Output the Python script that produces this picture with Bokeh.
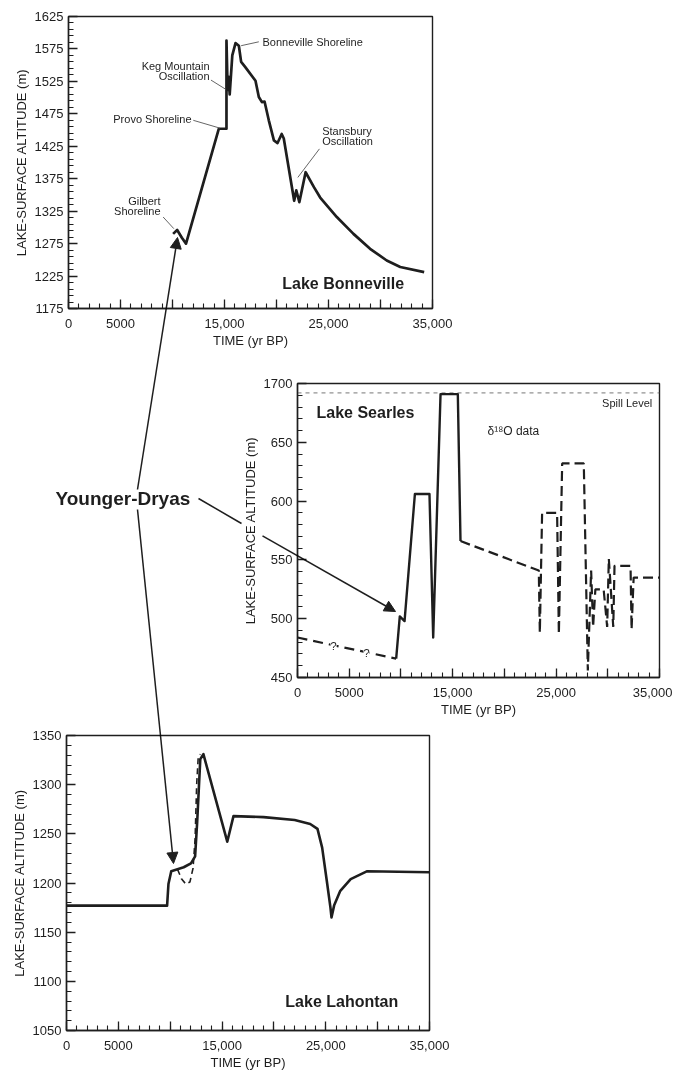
from bokeh.plotting import figure
from bokeh.models import FixedTicker, Label, Arrow, NormalHead
from bokeh.embed import file_html
from bokeh.resources import INLINE

FONT = "Liberation Sans"
INK = "#1e1e1e"

# ---------------- data ----------------
# time axis (yr BP)
x_major = [0, 5000, 10000, 15000, 20000, 25000, 30000, 35000]
x_labels = {0: "0", 5000: "5000", 10000: "", 15000: "15,000", 20000: "",
            25000: "25,000", 30000: "", 35000: "35,000"}

# Lake Bonneville
bon_t = [10060, 10450, 10900, 11300, 14450, 15190, 15190, 15300, 15400, 15500,
         15750, 16060, 16380, 16600, 17000, 17980, 18300, 18600, 18850, 19260,
         19750, 20100, 20500, 20700, 21700, 21900, 22200, 22800, 23600, 24200,
         25800, 27400, 29000, 30600, 31900, 34200]
bon_z = [1290, 1296, 1284, 1275, 1452, 1452, 1588, 1512, 1532, 1505,
         1565, 1584, 1580, 1555, 1547, 1526, 1501, 1493, 1494, 1465,
         1434, 1430, 1444, 1437, 1341, 1357, 1339, 1385, 1362, 1346,
         1316, 1290, 1267, 1249, 1239, 1231]
bon_ticks = [1175, 1225, 1275, 1325, 1375, 1425, 1475, 1525, 1575, 1625]

# Lake Searles
sea_q_t = [0, 9540]
sea_q_z = [484, 466]
sea_solid_t = [9540, 9890, 10350, 11350, 12760, 13120, 13830, 15500, 15760]
sea_solid_z = [466, 502, 498, 606, 606, 484, 691, 691, 566]
sea_d18_t = [15760, 23330, 23430, 23650, 25100, 25270, 25590, 27680, 28070,
             28390, 28580, 28800, 29600, 29940, 30100, 30530, 30650, 32200,
             32300, 32500, 35000]
sea_d18_z = [566, 541, 488, 590, 590, 487, 632, 632, 456,
             541, 493, 525, 525, 493, 551, 493, 545, 545,
             491, 535, 535]
sea_spill = 692
sea_ticks = [450, 500, 550, 600, 650, 700]
sea_labels = {450: "450", 500: "500", 550: "550", 600: "600", 650: "650", 700: "1700"}

# Lake Lahontan
lah_t = [0, 9700, 9830, 10100, 10700, 11300, 12000, 12400, 12600, 12900,
         13200, 15500, 16100, 19000, 22000, 23500, 24200, 24650, 25100, 25450,
         25550, 25800, 26400, 27400, 29000, 35000]
lah_z = [1177, 1177, 1199, 1212, 1214, 1216, 1220, 1227, 1262, 1326,
         1331, 1242, 1268, 1267, 1264, 1260, 1255, 1236, 1202, 1175,
         1165, 1177, 1192, 1204, 1212, 1211]
lah_alt_t = [10700, 11100, 11500, 11900, 12200, 12400, 12550, 12700, 12900]
lah_alt_z = [1214, 1204, 1199, 1201, 1215, 1245, 1300, 1328, 1331]
lah_ticks = [1050, 1100, 1150, 1200, 1250, 1300, 1350]

# ---------------- layout geometry (page px) ----------------
W = 664
TOP_H, MID_H, BOT_H = 352, 362, 352


def place(top_px, extra=None):
    s = {"position": "absolute", "top": f"{top_px}px", "left": "8px"}
    if extra:
        s.update(extra)
    return s


def make_fig(h, yr, borders, top_px):
    l, r, t, b = borders
    p = figure(width=W, height=h, x_range=(0, 35000), y_range=yr,
               output_backend="svg", toolbar_location=None,
               min_border_left=l, min_border_right=r,
               min_border_top=t, min_border_bottom=b,
               styles=place(top_px))
    p.background_fill_color = "white"
    p.border_fill_color = "white"
    p.outline_line_color = INK
    p.outline_line_width = 1.4
    p.xgrid.visible = False
    p.ygrid.visible = False
    return p


def style_axes(p, yticks, ylabels=None):
    p.xaxis.ticker = FixedTicker(ticks=x_major, minor_ticks=list(range(0, 35001, 1000)))
    p.xaxis.major_label_overrides = x_labels
    p.yaxis.ticker = FixedTicker(ticks=yticks,
                                 minor_ticks=list(range(yticks[0], yticks[-1] + 1, 10)))
    if ylabels:
        p.yaxis.major_label_overrides = ylabels
    for ax in (p.xaxis[0], p.yaxis[0]):
        ax.major_tick_in = 9
        ax.major_tick_out = 0
        ax.minor_tick_in = 5
        ax.minor_tick_out = 0
        ax.axis_line_width = 1.4
        ax.axis_line_color = INK
        ax.major_tick_line_width = 1.3
        ax.minor_tick_line_width = 1.1
        ax.major_tick_line_color = INK
        ax.minor_tick_line_color = INK
        ax.major_label_text_font = FONT
        ax.major_label_text_font_size = "13px"
        ax.major_label_text_color = INK
        ax.axis_label_text_font = FONT
        ax.axis_label_text_font_size = "13px"
        ax.axis_label_text_font_style = "normal"
        ax.axis_label_text_color = INK
    p.xaxis.major_label_standoff = 10
    p.xaxis.axis_label_standoff = 2
    p.yaxis.major_label_standoff = 5
    p.yaxis.axis_label_standoff = 3
    p.xaxis.axis_label = "TIME (yr BP)"
    p.yaxis.axis_label = "LAKE-SURFACE ALTITUDE (m)"


def txt(p, x, y, s, size="11px", bold=False, align="left", **kw):
    p.add_layout(Label(x=x, y=y, text=s, text_font=FONT, text_font_size=size,
                       text_font_style="bold" if bold else "normal",
                       text_align=align, text_baseline="middle", text_color=INK, **kw))


def seg(p, x0, y0, x1, y1, width=0.9, color="#555555", head=False):
    end = NormalHead(size=11, fill_color=INK, line_color=INK, line_width=1) if head else None
    p.add_layout(Arrow(end=end, x_start=x0, y_start=y0, x_end=x1, y_end=y1,
                       line_width=width, line_color=color))


# ---------------- top: Lake Bonneville ----------------
top = make_fig(TOP_H, (1175, 1625), (60, W + 8 - 432, 8, 52), 8)
style_axes(top, bon_ticks)
top.line(bon_t, bon_z, line_width=2.7, line_color=INK, line_join="round")

txt(top, 18650, 1585, "Bonneville Shoreline")
seg(top, 16600, 1580, 18300, 1586)
txt(top, 13560, 1549, "Keg Mountain", align="right")
txt(top, 13560, 1533, "Oscillation", align="right")
seg(top, 13700, 1527, 15100, 1513)
txt(top, 11830, 1467, "Provo Shoreline", align="right")
seg(top, 12000, 1465, 14550, 1453)
txt(top, 24390, 1448, "Stansbury")
txt(top, 24390, 1433, "Oscillation")
seg(top, 24130, 1421, 22050, 1377)
txt(top, 8850, 1341, "Gilbert", align="right")
txt(top, 8850, 1325, "Shoreline", align="right")
seg(top, 9100, 1316, 10130, 1298)
txt(top, 20550, 1213, "Lake Bonneville", size="16px", bold=True)

# ---------------- middle: Lake Searles ----------------
mid = make_fig(MID_H, (450, 700), (297 - 8, W + 8 - 659, 383 - 360, 722 - 677), 8 + TOP_H)
style_axes(mid, sea_ticks, sea_labels)
mid.line([0, 35000], [sea_spill, sea_spill], line_width=1, line_color="#777777",
         line_dash="4 4")
mid.line(sea_q_t, sea_q_z, line_width=2.2, line_color=INK, line_dash="10 6")
mid.line(sea_solid_t, sea_solid_z, line_width=2.4, line_color=INK, line_join="round")
mid.line(sea_d18_t, sea_d18_z, line_width=2.2, line_color=INK, line_dash="10 5")
txt(mid, 3190, 477, "?", background_fill_color="white")
txt(mid, 6380, 471, "?", background_fill_color="white")
txt(mid, 1840, 675, "Lake Searles", size="16px", bold=True)
txt(mid, 34300, 683, "Spill Level", align="right")
txt(mid, 18370, 660, "δ¹⁸O data", size="12px")

# ---------------- bottom: Lake Lahontan ----------------
bot = make_fig(BOT_H, (1050, 1350), (66 - 8, W + 8 - 429, 735 - 722, 1074 - 1030),
               8 + TOP_H + MID_H)
style_axes(bot, lah_ticks)
bot.line(lah_alt_t, lah_alt_z, line_width=1.6, line_color=INK, line_dash="6 4")
bot.line(lah_t, lah_z, line_width=2.6, line_color=INK, line_join="round")
txt(bot, 21100, 1080, "Lake Lahontan", size="16px", bold=True)

# ---------------- overlay (page coordinates) for Younger-Dryas callouts ----------------
OV_H = TOP_H + MID_H + BOT_H
ov = figure(width=W, height=OV_H, x_range=(8, 8 + W), y_range=(8 + OV_H, 8),
            output_backend="svg", toolbar_location=None,
            x_axis_location=None, y_axis_location=None,
            min_border=0, min_border_left=0, min_border_right=0,
            min_border_top=0, min_border_bottom=0,
            styles=place(8, {"mix-blend-mode": "multiply", "z-index": "5",
                             "pointer-events": "none"}))
ov.background_fill_alpha = 0
ov.border_fill_alpha = 0
ov.outline_line_color = None
ov.xgrid.visible = False
ov.ygrid.visible = False

txt(ov, 55, 498, "Younger-Dryas", size="19px", bold=True)
seg(ov, 137, 489, 177, 237, width=1.5, color=INK, head=True)
seg(ov, 137, 509, 173, 863, width=1.5, color=INK, head=True)
seg(ov, 198, 498, 241, 523, width=1.5, color=INK)
seg(ov, 262, 535.4, 395, 611, width=1.5, color=INK, head=True)

open("out.html", "w").write(file_html([top, mid, bot, ov], INLINE))
